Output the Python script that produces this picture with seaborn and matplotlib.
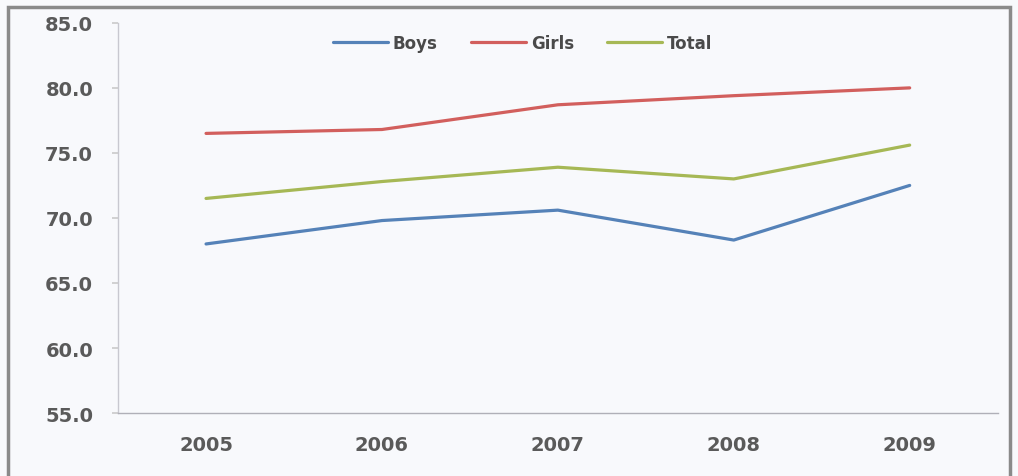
import matplotlib
matplotlib.use("Agg")
import matplotlib.pyplot as plt
import seaborn as sns
import pandas as pd
from matplotlib.patches import Rectangle

years = ["2005", "2006", "2007", "2008", "2009"]
boys = [68.0, 69.8, 70.6, 68.3, 72.5]
girls = [76.5, 76.8, 78.7, 79.4, 80.0]
total = [71.5, 72.8, 73.9, 73.0, 75.6]
series_names = ["Boys", "Girls", "Total"]
yticks = [55.0, 60.0, 65.0, 70.0, 75.0, 80.0, 85.0]

colors = {"Boys": "#5582b8", "Girls": "#d25f5d", "Total": "#a6b855"}

rows = []
for name, vals in zip(series_names, [boys, girls, total]):
    for i, (y, v) in enumerate(zip(years, vals)):
        rows.append({"pos": i, "Year": y, "Value": v, "Series": name})
df = pd.DataFrame(rows)

sns.set_theme(style="white")
plt.rcParams['font.family'] = ['DejaVu Sans']

fig = plt.figure(figsize=(10.18, 4.77), dpi=100)
fig.patch.set_facecolor("#f8f9fc")
ax = fig.add_axes([0.116, 0.132, 0.864, 0.818])
ax.set_facecolor("#f8f9fc")

sns.lineplot(data=df, x="pos", y="Value", hue="Series", palette=colors,
             linewidth=2.3, ax=ax, legend=True)

ax.set_xlim(-0.5, 4.5)
ax.set_ylim(55, 85)
ax.set_yticks(yticks)
ax.set_yticklabels([f"{t:.1f}" for t in yticks], fontsize=14, fontweight="bold", color="#5a5a5a")
ax.set_xticks(range(len(years)))
ax.set_xticklabels(years, fontsize=14, fontweight="bold", color="#5a5a5a")
ax.set_xticks([i - 0.5 for i in range(len(years) + 1)], minor=True)
ax.tick_params(axis="x", which="major", length=0, pad=16)
ax.tick_params(axis="x", which="minor", length=4, color="#bbbbbb", direction="out")
ax.tick_params(axis="y", length=4, color="#cccccc", pad=14, direction="out", left=True)
ax.set_xlabel("")
ax.set_ylabel("")

for s in ["top", "right"]:
    ax.spines[s].set_visible(False)
ax.spines["left"].set_color("#c8c8d0")
ax.spines["bottom"].set_color("#b0b0b8")
ax.spines["left"].set_linewidth(1)
ax.spines["bottom"].set_linewidth(1)

leg = ax.legend(loc="upper center", bbox_to_anchor=(0.46, 1.01), ncol=3, frameon=False,
                fontsize=12, handlelength=3.3, columnspacing=2.0, handletextpad=0.3)
for t in leg.get_texts():
    t.set_fontweight("bold")
    t.set_color("#4a4a4a")

fig.add_artist(Rectangle((8 / 1018, -0.01), (1010 - 8) / 1018, 1 - 8 / 477 + 0.01,
                         transform=fig.transFigure, fill=False, edgecolor="#8a8a8a", linewidth=2.5))

fig.savefig("out.png", dpi=100, facecolor=fig.get_facecolor())
